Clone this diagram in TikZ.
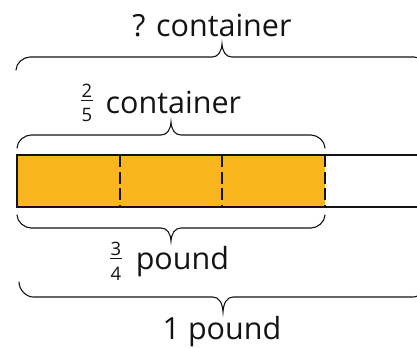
\documentclass[tikz,border=0pt]{standalone}
\usepackage{fontspec}
\setmainfont{Open Sans}
\definecolor{barfill}{RGB}{249,182,30}
\definecolor{ink}{RGB}{20,20,20}
\tikzset{
  labeltext/.style={inner sep=0pt, anchor=base, text=ink, font=\fontsize{30.5}{36}\selectfont},
  digit/.style={inner sep=0pt, anchor=base, text=ink, font=\fontsize{18.5}{20}\selectfont},
  fracbar/.style={line width=1.4pt, draw=ink},
  bracestroke/.style={line width=1.1pt, draw=ink, line cap=round},
  baredge/.style={line width=2.5pt, draw=ink},
  divider/.style={line width=2pt, draw=ink, dash pattern=on 12pt off 4.5pt},
}
% horizontal curly brace: #1 left x, #2 right x, #3 y of the long stroke,
% #4 depth (positive: ends hang below, tip points up)
\newcommand\hbrace[4]{%
  \pgfmathsetmacro\bmid{(#1+#2)/2}%
  \draw[bracestroke]
    (#1,#3+#4) .. controls (#1,#3+0.45*#4) and (#1+7.7,#3) .. (#1+14,#3)
    -- (\bmid-10,#3) .. controls (\bmid-4,#3) and (\bmid-0.5,#3-0.4*#4) .. (\bmid,#3-#4)
    .. controls (\bmid+0.5,#3-0.4*#4) and (\bmid+4,#3) .. (\bmid+10,#3)
    -- (#2-14,#3) .. controls (#2-7.7,#3) and (#2,#3+0.45*#4) .. (#2,#3+#4);}
\begin{document}
\begin{tikzpicture}[x=1pt,y=-1pt]
  \useasboundingbox (0,0) rectangle (417,348);

  % tape: three shaded parts of equal width, the rest empty
  \fill[barfill] (17,155) rectangle (325,207);
  \draw[baredge] (420,155) -- (17,155) -- (17,207) -- (420,207);
  \draw[divider] (120,155) -- (120,207);
  \draw[divider] (222,155) -- (222,207);
  \draw[divider] (325,155) -- (325,207);

  % braces
  \hbrace{16}{428}{57}{13}
  \hbrace{17}{325}{135}{13}
  \hbrace{17}{325}{228}{-13}
  \hbrace{19}{427}{297}{-15}

  % labels
  \node[labeltext] (whole) at (212,36) {? container};

  \node[labeltext, anchor=base west] (part) at (105.5,113) {container};
  \node[digit] (partnum) at (87,97) {2};
  \node[digit] (partden) at (87,121.5) {5};
  \draw[fracbar] (81,100.7) -- (93,100.7);

  \node[labeltext, anchor=base west] (weight) at (135.6,269) {pound};
  \node[digit] (wnum) at (116,255) {3};
  \node[digit] (wden) at (116,280.5) {4};
  \draw[fracbar] (110,258.3) -- (122,258.3);

  \node[labeltext] (total) at (222,339) {1 pound};
\end{tikzpicture}
\end{document}
